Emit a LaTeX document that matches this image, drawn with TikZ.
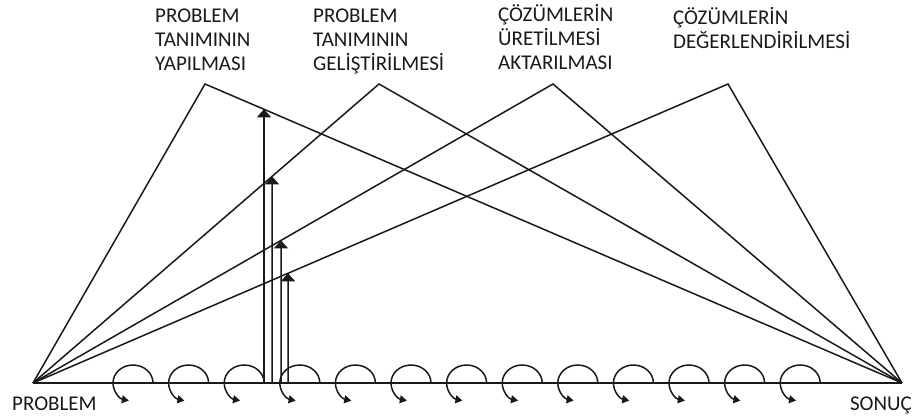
\documentclass[tikz,border=0pt]{standalone}
\usepackage{fontspec}
\setmainfont{Carlito}
\usetikzlibrary{arrows.meta,calc}

\begin{document}
\begin{tikzpicture}[x=1pt, y=1pt,
  font=\fontsize{21}{24}\selectfont,
  every node/.append style={align=left, inner sep=0pt, text=black!90},
  ln/.style={line width=1.5pt, draw=black!90},
  uparr/.style={ln, -{Triangle[width=14pt,length=8pt]}},
  turnarr/.style={ln, -{Triangle[width=8pt,length=7pt]}}
]
\useasboundingbox (0,0) rectangle (913,416);
\coordinate (prob) at (33,33);
\coordinate (son)  at (902,33);
\coordinate (a1) at (205,332);
\coordinate (a2) at (379,332);
\coordinate (a3) at (553,332);
\coordinate (a4) at (728,332);
\node[anchor=base west] (lprob) at (12,6)  {PROBLEM};
\node[anchor=base east] (lson)  at (912,6) {SONUÇ};
\node[anchor=base west] (t1) at (155,345) {PROBLEM\\TANIMININ\\YAPILMASI};
\node[anchor=base west] (t2) at (313,345) {PROBLEM\\TANIMININ\\GELİŞTİRİLMESİ};
\node[anchor=base west] (t3) at (498,346) {ÇÖZÜMLERİN\\ÜRETİLMESİ\\AKTARILMASI};
\node[anchor=base west] (t4) at (673,367) {ÇÖZÜMLERİN\\DEĞERLENDİRİLMESİ};
\draw[ln] (prob) -- (son);
\foreach \a in {a1,a2,a3,a4}
  \draw[ln] (prob) -- (\a) -- (son);
% arrows up to the lines
\foreach \x [count=\i] in {264,272,281,288} {
  \coordinate (v\i) at (\x,33);
  \coordinate (w\i) at (\x,400);
}
\draw[uparr] (v1) -- (intersection of a1--son and v1--w1);
\draw[uparr] (v2) -- (intersection of prob--a2 and v2--w2);
\draw[uparr] (v3) -- (intersection of prob--a3 and v3--w3);
\draw[uparr] (v4) -- (intersection of prob--a4 and v4--w4);
% turns along the base line
\foreach \i in {0,...,12}
  \draw[turnarr] ({153+55.6*\i},33) arc[start angle=0, end angle=258, x radius=20, y radius=18];
\end{tikzpicture}
\end{document}
